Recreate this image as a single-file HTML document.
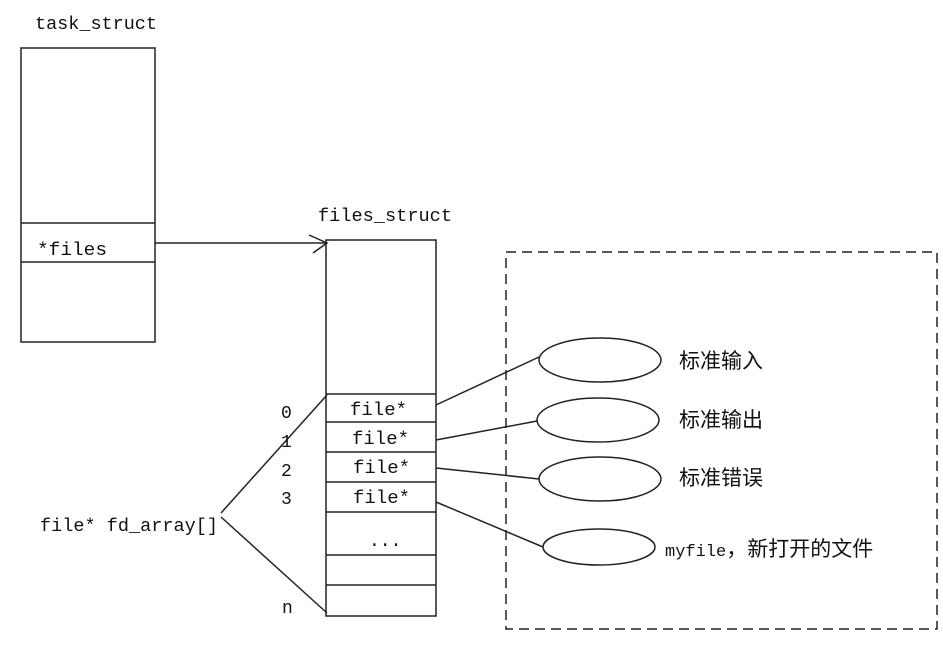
<!DOCTYPE html>
<html><head><meta charset="utf-8"><style>
html,body{margin:0;padding:0;background:#fff;}
svg{display:block;}
.m{font-family:"Liberation Mono",monospace;font-size:18px;fill:#111;}
.c{font-family:"Liberation Sans","Noto Sans CJK SC",sans-serif;font-size:21px;fill:#111;}
</style></head><body>
<svg width="943" height="645" viewBox="0 0 943 645" xmlns="http://www.w3.org/2000/svg">
<g stroke="#222" stroke-width="1.5" fill="none">
<rect x="21" y="48" width="134" height="294"/>
<line x1="21" y1="223" x2="155" y2="223"/>
<line x1="21" y1="262" x2="155" y2="262"/>
<line x1="155" y1="243" x2="327" y2="243"/>
<polyline points="309,235 327,243 313,253"/>
<rect x="326" y="240" width="110" height="376"/>
<line x1="326" y1="394" x2="436" y2="394"/>
<line x1="326" y1="422" x2="436" y2="422"/>
<line x1="326" y1="452" x2="436" y2="452"/>
<line x1="326" y1="482" x2="436" y2="482"/>
<line x1="326" y1="512" x2="436" y2="512"/>
<line x1="326" y1="555" x2="436" y2="555"/>
<line x1="326" y1="585" x2="436" y2="585"/>
<line x1="221" y1="513" x2="327" y2="395"/>
<line x1="221" y1="517" x2="327" y2="613"/>
<rect x="506" y="252" width="431" height="377" stroke-dasharray="10,6"/>
<ellipse cx="600" cy="360" rx="61" ry="22"/>
<ellipse cx="598" cy="420" rx="61" ry="22"/>
<ellipse cx="600" cy="479" rx="61" ry="22"/>
<ellipse cx="599" cy="547" rx="56" ry="18"/>
<line x1="436" y1="405" x2="539" y2="357"/>
<line x1="436" y1="440" x2="537" y2="421"/>
<line x1="436" y1="468" x2="539" y2="479"/>
<line x1="436" y1="502" x2="543" y2="547"/>
</g>
<text class="m" x="35" y="29" textLength="122" lengthAdjust="spacingAndGlyphs">task_struct</text>
<text class="m" x="37" y="255" textLength="70" lengthAdjust="spacingAndGlyphs">*files</text>
<text class="m" x="318" y="221" textLength="134" lengthAdjust="spacingAndGlyphs">files_struct</text>
<text class="m" x="350" y="415" textLength="57" lengthAdjust="spacingAndGlyphs">file*</text>
<text class="m" x="352" y="444" textLength="57" lengthAdjust="spacingAndGlyphs">file*</text>
<text class="m" x="353" y="473" textLength="57" lengthAdjust="spacingAndGlyphs">file*</text>
<text class="m" x="353" y="503" textLength="57" lengthAdjust="spacingAndGlyphs">file*</text>
<text class="m" x="369" y="546">...</text>
<text class="m" x="281" y="418">0</text>
<text class="m" x="281" y="447">1</text>
<text class="m" x="281" y="476">2</text>
<text class="m" x="281" y="504">3</text>
<text class="m" x="282" y="613">n</text>
<text class="m" x="40" y="531" textLength="178" lengthAdjust="spacingAndGlyphs">file* fd_array[]</text>
<text class="c" x="679" y="368">标准输入</text>
<text class="c" x="679" y="427">标准输出</text>
<text class="c" x="679" y="485">标准错误</text>
<text class="c" x="665" y="556"><tspan style="font-family:'Liberation Mono',monospace;font-size:17px">myfile</tspan>，新打开的文件</text>
</svg>
</body></html>
